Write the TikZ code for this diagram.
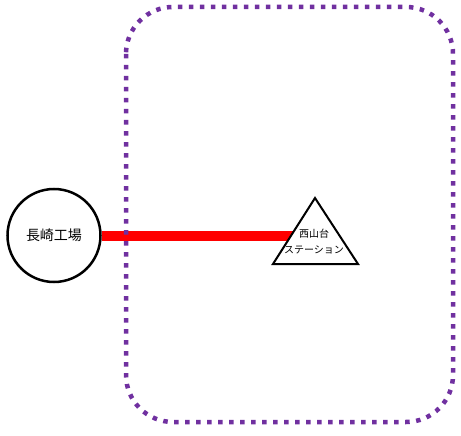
\documentclass[tikz,border=0pt]{standalone}
\usepackage{fontspec}
\newfontfamily\jpfont{Noto Sans CJK JP}
\usepackage{tikz}
\definecolor{zonepurple}{HTML}{7030A0}
\tikzstyle{plant}=[circle,draw,line width=2.5pt,fill=white,minimum size=93pt,inner sep=0pt,font=\jpfont\fontsize{14}{16}\selectfont]
\tikzstyle{stn}=[draw,line width=2pt,fill=white,line join=miter]
\tikzstyle{stnlabel}=[inner sep=0pt,align=center,font=\jpfont\fontsize{10}{16.5}\selectfont]
\tikzstyle{rail}=[draw=red,line width=10pt]
\tikzstyle{zone}=[draw=zonepurple,line width=4.5pt,dash pattern=on 4.5pt off 6.5pt,rounded corners=47pt]

\begin{document}
\begin{tikzpicture}[x=1pt,y=-1pt]
		% % % % % % % % % % % % % % % % % % % % % % % % % % % % %
		\useasboundingbox (0,0) rectangle (461,436);
		%*********************
		\node [plant] (nagasaki) at (54,235.5) {長崎工場};
		\coordinate (s0) at (315,235.5);
		%*********************
		\coordinate (s1) at (315,198);
		\coordinate (s2) at (273,264);
		\coordinate (s3) at (358,264);
		%*********************
		\path
		(nagasaki) edge [rail] (s0)
		;
		\path [stn] (s1) -- (s2) -- (s3) -- cycle;
		\node [stnlabel] (nishiyama) at (314,241.5) {西山台\\ステーション};
		%*********************
		\coordinate (z1) at (126,7);
		\coordinate (z2) at (453,422);
		\path [zone] (z1) rectangle (z2);
		%*********************
\end{tikzpicture}
\end{document}
